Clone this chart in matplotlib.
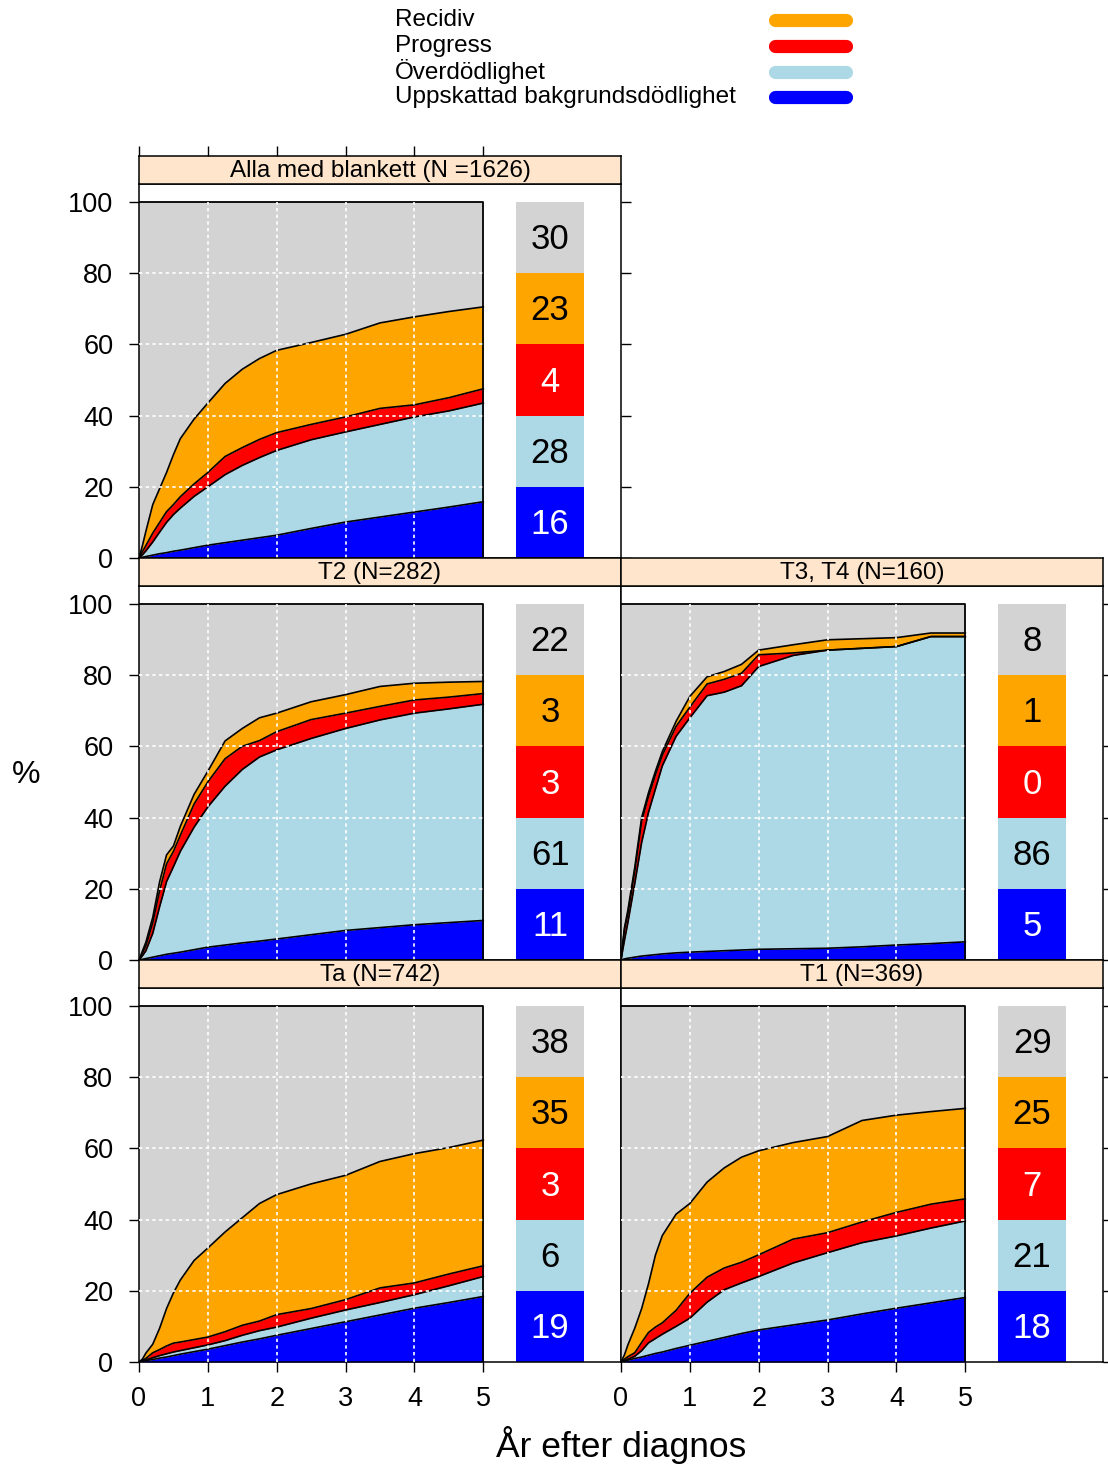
import matplotlib
matplotlib.use("Agg")
import matplotlib.pyplot as plt
from matplotlib.lines import Line2D

plt.rcParams['font.family'] = ['Liberation Sans', 'DejaVu Sans']

# ---------------------------------------------------------------------------
# Data: cumulative stacked curves (%) by years after diagnosis
# bg = estimated background mortality, excess = + excess mortality,
# prog = + progression, recid = + recurrence (each is the running top edge)
# ---------------------------------------------------------------------------
years = [0, 0.05, 0.1, 0.2, 0.3, 0.4, 0.5, 0.6, 0.8, 1.0, 1.25, 1.5, 1.75,
         2.0, 2.5, 3.0, 3.5, 4.0, 4.5, 5.0]

alla_bg     = [0, 0.2, 0.4, 0.8, 1.2, 1.5, 1.9, 2.2, 2.9, 3.6, 4.3, 5.0, 5.7, 6.4, 8.3, 10.1, 11.5, 12.9, 14.3, 15.8]
alla_excess = [0, 0.9, 2.0, 4.5, 7.3, 10.0, 12.2, 14.0, 17.3, 20.0, 23.4, 26.0, 28.2, 30.2, 33.2, 35.4, 37.5, 39.6, 41.3, 43.5]
alla_prog   = [0, 1.8, 3.5, 7.0, 10.0, 13.0, 15.0, 17.2, 20.8, 24.0, 28.5, 31.0, 33.3, 35.2, 37.5, 39.6, 42.0, 43.0, 45.0, 47.5]
alla_recid  = [0, 3.5, 7.5, 15.0, 19.5, 24.0, 29.0, 33.5, 39.0, 43.5, 49.0, 53.0, 56.0, 58.3, 60.5, 62.8, 66.0, 67.7, 69.2, 70.5]

t2_bg     = [0, 0.2, 0.4, 0.8, 1.2, 1.6, 1.9, 2.2, 2.9, 3.6, 4.2, 4.8, 5.3, 5.9, 7.1, 8.3, 9.1, 9.9, 10.5, 11.1]
t2_excess = [0, 1.2, 2.6, 7.5, 15.0, 22.0, 26.2, 30.5, 37.3, 43.0, 48.8, 53.5, 57.0, 59.0, 62.2, 65.0, 67.4, 69.3, 70.5, 71.8]
t2_prog   = [0, 2.0, 4.0, 10.5, 19.5, 27.0, 30.5, 35.0, 43.8, 50.0, 56.5, 60.0, 61.6, 64.1, 67.5, 69.3, 71.2, 73.0, 73.8, 74.8]
t2_recid  = [0, 2.5, 5.0, 12.0, 22.0, 29.5, 32.0, 37.5, 46.5, 53.0, 61.5, 65.0, 68.0, 69.3, 72.5, 74.5, 76.8, 77.7, 78.0, 78.2]

t34_bg     = [0, 0.3, 0.5, 0.8, 1.1, 1.3, 1.5, 1.7, 2.0, 2.2, 2.4, 2.6, 2.8, 3.0, 3.15, 3.3, 3.7, 4.2, 4.6, 5.1]
t34_excess = [0, 5.5, 10.5, 21.5, 33.0, 41.5, 48.0, 54.5, 62.8, 68.0, 74.2, 75.2, 77.0, 82.4, 85.5, 87.0, 87.5, 88.0, 90.8, 90.8]
t34_prog   = [0, 8.5, 13.0, 25.0, 39.0, 46.0, 52.0, 57.5, 65.6, 71.0, 77.5, 78.8, 80.5, 85.7, 86.2, 87.0, 87.5, 88.0, 90.8, 90.8]
t34_recid  = [0, 9.0, 14.0, 26.0, 40.0, 47.0, 53.0, 58.5, 67.0, 74.0, 79.5, 81.0, 83.0, 87.0, 88.5, 89.9, 90.2, 90.5, 91.8, 91.8]

ta_bg     = [0, 0.2, 0.4, 0.7, 1.1, 1.4, 1.8, 2.2, 2.9, 3.6, 4.6, 5.6, 6.5, 7.5, 9.4, 11.3, 13.2, 15.1, 16.7, 18.4]
ta_excess = [0, 0.3, 0.6, 1.2, 1.8, 2.3, 2.8, 3.2, 4.0, 4.8, 6.0, 7.5, 8.8, 9.8, 12.3, 14.6, 16.7, 18.9, 21.4, 24.0]
ta_prog   = [0, 0.5, 1.0, 2.6, 3.5, 4.5, 5.3, 5.6, 6.3, 7.0, 8.5, 10.3, 11.5, 13.3, 15.0, 17.5, 20.8, 22.2, 24.7, 27.0]
ta_recid  = [0, 0.8, 2.5, 5.0, 9.5, 15.0, 19.4, 23.0, 28.5, 32.0, 36.5, 40.5, 44.5, 47.0, 50.0, 52.4, 56.3, 58.5, 60.2, 62.3]

t1_bg     = [0, 0.2, 0.5, 1.0, 1.4, 1.9, 2.4, 2.8, 3.8, 4.7, 5.8, 6.9, 8.0, 9.0, 10.4, 11.8, 13.5, 15.1, 16.6, 18.1]
t1_excess = [0, 0.4, 0.8, 1.6, 3.2, 5.4, 6.6, 7.8, 10.0, 12.3, 16.8, 20.3, 22.2, 24.0, 27.8, 30.7, 33.5, 35.4, 37.6, 39.6]
t1_prog   = [0, 0.8, 1.5, 2.6, 5.5, 8.3, 9.8, 11.0, 14.5, 19.3, 23.8, 26.4, 28.0, 30.1, 34.5, 36.3, 39.3, 42.0, 44.3, 45.8]
t1_recid  = [0, 2.0, 4.8, 9.5, 15.0, 22.0, 30.0, 35.5, 41.5, 44.5, 50.5, 54.5, 57.5, 59.3, 61.6, 63.3, 67.8, 69.3, 70.3, 71.2]

# Five-year shares (%) shown in the side column: bg, excess, prog, recid, rest
alla_share = [16, 28, 4, 23, 30]
t2_share   = [11, 61, 3, 3, 22]
t34_share  = [5, 86, 0, 1, 8]
ta_share   = [19, 6, 3, 35, 38]
t1_share   = [18, 21, 7, 25, 29]

panel_titles = ["Alla med blankett (N =1626)", "T2 (N=282)", "T3, T4 (N=160)",
                "Ta (N=742)", "T1 (N=369)"]

legend_labels = ["Recidiv", "Progress", "Överdödlighet", "Uppskattad bakgrundsdödlighet"]

y_ticks = [0, 20, 40, 60, 80, 100]
x_ticks = [0, 1, 2, 3, 4, 5]

# ---------------------------------------------------------------------------
# Styling
# ---------------------------------------------------------------------------
C_BG = "#0000FF"
C_EXC = "#ADD8E6"
C_PROG = "#FF0000"
C_REC = "#FFA500"
C_REST = "#D3D3D3"
C_STRIP = "#FFE5CC"
layer_colors = [C_BG, C_EXC, C_PROG, C_REC, C_REST]
text_colors = ["white", "black", "white", "black", "black"]

W, H = 1108, 1465
fig = plt.figure(figsize=(W / 100, H / 100), dpi=100)


def fx(px):
    return px / W


def fy(py):
    return 1 - py / H


col_left = [139, 621]
col_w = 482
row_bottom = [558, 960, 1362]
panel_h = 374
strip_h = 28
TICK_LEN = 7.5
TICK_FS = 19.5

panels = [
    (0, 0, panel_titles[0], alla_bg, alla_excess, alla_prog, alla_recid, alla_share),
    (1, 0, panel_titles[1], t2_bg, t2_excess, t2_prog, t2_recid, t2_share),
    (1, 1, panel_titles[2], t34_bg, t34_excess, t34_prog, t34_recid, t34_share),
    (2, 0, panel_titles[3], ta_bg, ta_excess, ta_prog, ta_recid, ta_share),
    (2, 1, panel_titles[4], t1_bg, t1_excess, t1_prog, t1_recid, t1_share),
]

for row, col, title, bg, exc, prog, rec, share in panels:
    left = col_left[col]
    bottom = row_bottom[row]
    ax = fig.add_axes([fx(left), fy(bottom), col_w / W, panel_h / H])
    ax.set_xlim(0, 7)
    ax.set_ylim(0, 105)

    t_end = years[-1]
    # Remaining share (grey) fills the whole 0-100 % frame behind the layers
    ax.fill_between([0, t_end], 0, 100, color=C_REST, lw=0, zorder=1)
    ax.fill_between(years, 0, bg, color=C_BG, lw=0, zorder=2)
    ax.fill_between(years, bg, exc, color=C_EXC, lw=0, zorder=2)
    ax.fill_between(years, exc, prog, color=C_PROG, lw=0, zorder=2)
    ax.fill_between(years, prog, rec, color=C_REC, lw=0, zorder=2)
    for curve in (bg, exc, prog, rec):
        ax.plot(years, curve, color="black", lw=1.2, zorder=3)
    ax.plot([0, t_end, t_end], [100, 100, 0], color="black", lw=1.3, zorder=3)

    # White dotted reference grid over the layers
    ax.vlines(x_ticks[1:-1], 0, 100, colors="white", linestyles=(0, (2, 2)),
              lw=1.2, zorder=4)
    ax.hlines(y_ticks[1:-1], 0, t_end, colors="white", linestyles=(0, (2, 2)),
              lw=1.2, zorder=4)

    # Side column with the five-year shares
    bar_x = 5.97
    seg = 20
    for k, (val, colr, tcol) in enumerate(zip(share, layer_colors, text_colors)):
        ax.bar(bar_x, seg, bottom=k * seg, width=0.98, color=colr, lw=0, zorder=2)
        ax.text(bar_x, k * seg + seg / 2 - 0.6, str(val), ha="center", va="center",
                fontsize=25, color=tcol, zorder=5)

    for sp in ax.spines.values():
        sp.set_linewidth(1.1)

    ax.set_yticks(y_ticks)
    ax.set_xticks(x_ticks)
    show_left = col == 0
    show_right = (col == 1) or (row == 0)
    show_bottom = row == 2
    ax.tick_params(axis="y", direction="out", length=TICK_LEN, width=1.0,
                   left=show_left, right=show_right, labelleft=show_left,
                   labelright=False, labelsize=TICK_FS, pad=11)
    ax.tick_params(axis="x", direction="out", length=TICK_LEN, width=1.0,
                   bottom=show_bottom, top=False, labelbottom=show_bottom,
                   labelsize=TICK_FS, pad=10)

    # Strip with panel title
    sax = fig.add_axes([fx(left), fy(bottom - panel_h), col_w / W, strip_h / H])
    sax.set_facecolor(C_STRIP)
    sax.set_xlim(0, 7)
    sax.set_ylim(0, 1)
    sax.set_yticks([])
    for sp in sax.spines.values():
        sp.set_linewidth(1.1)
    sax.text(3.5, 0.45, title, ha="center", va="center", fontsize=17.5)
    if row == 0:
        sax.set_xticks(x_ticks)
        sax.tick_params(axis="x", direction="out", length=TICK_LEN, width=1.0,
                        top=True, bottom=False, labeltop=False, labelbottom=False)
    else:
        sax.set_xticks([])

# Legend at the top
legend_colors = [C_REC, C_PROG, C_EXC, C_BG]
legend_y = [20, 46, 72, 97]
for lab, colr, ly in zip(legend_labels, legend_colors, legend_y):
    fig.text(fx(395), fy(ly), lab, ha="left", va="center", fontsize=17.5)
    fig.add_artist(Line2D([fx(775), fx(846)], [fy(ly), fy(ly)], lw=9.5,
                          color=colr, solid_capstyle="round"))

# Axis titles
fig.text(fx(26), fy(775), "%", ha="center", va="center", fontsize=23)
fig.text(fx(621), fy(1445), "År efter diagnos", ha="center", va="center",
         fontsize=25.5)

fig.savefig("out.png", dpi=100)
